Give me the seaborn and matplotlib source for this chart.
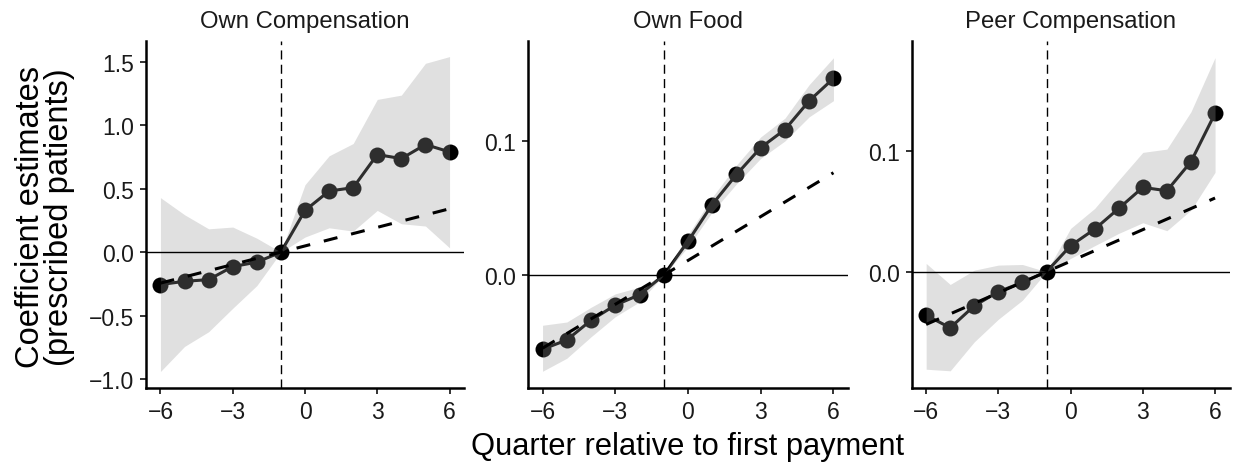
import numpy as np
import pandas as pd
import matplotlib
matplotlib.use("Agg")
import matplotlib.pyplot as plt
from matplotlib.ticker import FuncFormatter, FixedLocator
import seaborn as sns

# Event-study estimates by quarter relative to first payment
quarters = [-6, -5, -4, -3, -2, -1, 0, 1, 2, 3, 4, 5, 6]
panel_titles = ["Own Compensation", "Own Food", "Peer Compensation"]

own_comp_est = [-0.256, -0.23, -0.217, -0.114, -0.079, 0.0, 0.329, 0.482, 0.509, 0.77, 0.738, 0.849, 0.791]
own_comp_lo = [-0.942, -0.744, -0.628, -0.443, -0.264, 0.0, 0.119, 0.192, 0.166, 0.329, 0.224, 0.206, 0.034]
own_comp_hi = [0.43, 0.295, 0.184, 0.198, 0.11, 0.0, 0.532, 0.76, 0.857, 1.205, 1.239, 1.49, 1.543]
own_comp_trend = 0.0489

own_food_est = [-0.0553, -0.0484, -0.0337, -0.0224, -0.0147, 0.0, 0.0252, 0.0526, 0.075, 0.095, 0.1085, 0.1299, 0.1466]
own_food_lo = [-0.0717, -0.062, -0.046, -0.031, -0.020, 0.0, 0.021, 0.047, 0.068, 0.087, 0.100, 0.118, 0.130]
own_food_hi = [-0.0374, -0.035, -0.024, -0.014, -0.009, 0.0, 0.030, 0.058, 0.082, 0.103, 0.117, 0.142, 0.162]
own_food_trend = 0.0109

peer_comp_est = [-0.0359, -0.0463, -0.0281, -0.0165, -0.0088, 0.0, 0.0215, 0.0352, 0.0523, 0.0697, 0.0669, 0.0909, 0.1308]
peer_comp_lo = [-0.0805, -0.0818, -0.0579, -0.0392, -0.0235, 0.0, 0.011, 0.0215, 0.0317, 0.0405, 0.0339, 0.0509, 0.0821]
peer_comp_hi = [0.0069, -0.0105, 0.0013, 0.0055, 0.006, 0.0, 0.0358, 0.0523, 0.0757, 0.0986, 0.1013, 0.1322, 0.1769]
peer_comp_trend = 0.0087

panel_est = [own_comp_est, own_food_est, peer_comp_est]
panel_lo = [own_comp_lo, own_food_lo, peer_comp_lo]
panel_hi = [own_comp_hi, own_food_hi, peer_comp_hi]
panel_trend = [own_comp_trend, own_food_trend, peer_comp_trend]

y_limits = [(-1.068, 1.666), (-0.0838, 0.1745), (-0.0956, 0.1906)]
y_ticks = [[-1.0, -0.5, 0.0, 0.5, 1.0, 1.5], [0.0, 0.1], [0.0, 0.1]]
x_ticks = [-6, -3, 0, 3, 6]
event_quarter = -1

sns.set_theme(style="ticks")
plt.rcParams["font.family"] = ["Liberation Sans", "DejaVu Sans"]

W, H = 1235, 464
fig = plt.figure(figsize=(W / 100, H / 100), dpi=100)

# panel boxes in pixels: (left, right)
panel_px = [(146, 464), (528, 848), (911.7, 1229.5)]
top_px, bottom_px = 42.0, 388.5

def fmt(v, pos):
    return f"{v:.1f}".replace("-", "\u2212")

def fmt_int(v, pos):
    return f"{int(round(v))}".replace("-", "\u2212")

for i in range(3):
    l, r = panel_px[i]
    ax = fig.add_axes([l / W, 1 - bottom_px / H, (r - l) / W, (bottom_px - top_px) / H])
    df = pd.DataFrame({"quarter": quarters, "est": panel_est[i],
                       "lo": panel_lo[i], "hi": panel_hi[i]})

    sns.lineplot(data=df, x="quarter", y="est", ax=ax, color="black",
                 linewidth=2.2, marker="o", markersize=11.5,
                 markeredgewidth=0, zorder=2)
    ax.fill_between(df["quarter"], df["lo"], df["hi"], color="#999999",
                    alpha=0.3, linewidth=0, zorder=3)
    ax.axhline(0, color="black", linewidth=1.0, zorder=4)
    ax.axvline(event_quarter, color="black", linewidth=1.0,
               dashes=(6.5, 3.8), zorder=4)
    trend = [panel_trend[i] * (q - event_quarter) for q in quarters]
    sns.lineplot(x=quarters, y=trend, ax=ax, color="black", linewidth=2.2,
                 zorder=5).lines[-1].set_dashes((4.6, 4.6))

    ax.set_xlim(-6.6, 6.6)
    ax.set_ylim(*y_limits[i])
    ax.xaxis.set_major_locator(FixedLocator(x_ticks))
    ax.yaxis.set_major_locator(FixedLocator(y_ticks[i]))
    ax.xaxis.set_major_formatter(FuncFormatter(fmt_int))
    ax.yaxis.set_major_formatter(FuncFormatter(fmt))
    ax.set_xlabel("")
    ax.set_ylabel("")
    ax.set_title(panel_titles[i], fontsize=17.2, color="#1a1a1a", pad=10)
    for side in ("top", "right"):
        ax.spines[side].set_visible(False)
    for side in ("left", "bottom"):
        ax.spines[side].set_linewidth(1.8)
        ax.spines[side].set_color("black")
    ax.tick_params(axis="both", length=4, width=1.4, color="#333333",
                   labelsize=16.5, labelcolor="#1a1a1a")
    ax.tick_params(axis="x", pad=5)
    ax.tick_params(axis="y", pad=4.5)

fig.text(688 / W, 1 - 455 / H, "Quarter relative to first payment",
         ha="center", va="baseline", fontsize=22.2, color="black")
fig.text(45 / W, 1 - 217 / H, "Coefficient estimates\n(prescribed patients)",
         ha="center", va="center", rotation=90, fontsize=23.5, color="black",
         linespacing=0.9)

fig.savefig("out.png", dpi=100)
